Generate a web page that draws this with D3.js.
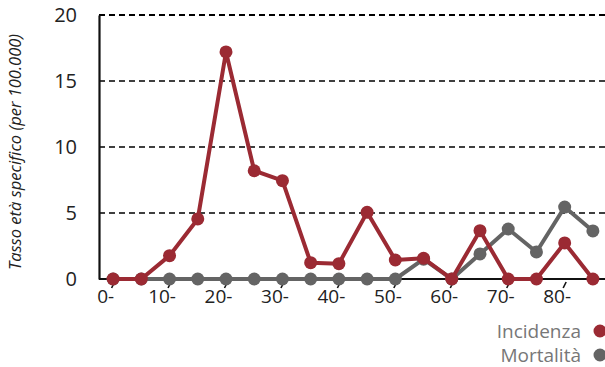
<!DOCTYPE html>
<html><head><meta charset="utf-8">
<script src="https://cdn.jsdelivr.net/npm/d3@7"></script>
<style>body{margin:0;background:#fff}svg{display:block;font-family:"Open Sans",sans-serif}</style>
</head><body>
<svg id="c" width="605" height="367"></svg>
<script>
const categories = ["0-","5-","10-","15-","20-","25-","30-","35-","40-","45-","50-","55-","60-","65-","70-","75-","80-","85-"];
const incidenza = [0,0,1.77,4.55,17.2,8.2,7.45,1.24,1.16,5.05,1.44,1.57,0,3.66,0,0,2.73,0];
const mortalita = [0,0,0,0,0,0,0,0,0,0,0,1.5,0,1.9,3.79,2.05,5.45,3.64];
const xTickLabels = ["0-","10-","20-","30-","40-","50-","60-","70-","80-"];
const yTicks = [0,5,10,15,20];
const seriesNames = ["Incidenza","Mortalità"];
const colors = ["#9b2a33","#646464"];

(function(){
const svg = d3.select("#c");
const pL = 99, pR = 607, pT = 15, pB = 279;
const x = d3.scalePoint().domain(categories).range([pL, pR]).padding(0.5);
const y = d3.scaleLinear().domain([0,20]).range([pB, pT]);

// grid
svg.append("g").selectAll("line").data(yTicks.filter(d=>d>0)).join("line")
  .attr("x1", pL).attr("x2", 605).attr("y1", d=>y(d)).attr("y2", d=>y(d))
  .attr("stroke", "#000").attr("stroke-width", d=>d===20?2.2:1.6).attr("stroke-dasharray", "6,4");

// y axis
const yAxis = d3.axisLeft(y).tickValues(yTicks).tickSize(0).tickPadding(22);
const gy = svg.append("g").attr("transform", `translate(${pL},0)`).call(yAxis);
gy.select(".domain").attr("stroke", "#111").attr("stroke-width", 2.2);
gy.selectAll("text").attr("font-size", 20).attr("fill", "#222").attr("font-family", "Open Sans");

// x axis
const xAxis = d3.axisBottom(x).tickValues(xTickLabels).tickSize(0).tickPadding(11);
const gx = svg.append("g").attr("transform", `translate(0,${pB})`).call(xAxis);
gx.select(".domain").attr("stroke", "#111").attr("stroke-width", 2.2).attr("d", `M${pL},0H${pR}`);
gx.selectAll("text").attr("font-size", 19).attr("fill", "#222").attr("dx", -8).attr("font-family", "Open Sans");
gx.selectAll(".tick").append("line").attr("x1", 1).attr("y1", 3).attr("x2", -2).attr("y2", 9)
  .attr("stroke", "#111").attr("stroke-width", 1.6);

// y label
svg.append("text").attr("transform", "translate(21,152) rotate(-90)")
  .attr("text-anchor", "middle").attr("font-size", 16.5).attr("font-style", "italic").attr("fill", "#222")
  .text("Tasso età specifico (per 100.000)");

const line = d3.line().x((d,i)=>x(categories[i])).y(d=>y(d));
[mortalita, incidenza].forEach((data, k) => {
  const c = k===0 ? colors[1] : colors[0];
  const g = svg.append("g");
  g.append("path").datum(data).attr("d", line).attr("fill","none").attr("stroke", c).attr("stroke-width", 4).attr("stroke-linejoin","round");
  g.selectAll("circle").data(data).join("circle")
    .attr("cx", (d,i)=>x(categories[i])).attr("cy", d=>y(d)).attr("r", 6.5).attr("fill", c);
});

// legend
const lg = svg.append("g");
seriesNames.forEach((n,i) => {
  const yy = 331 + i*24;
  lg.append("text").attr("x", 581).attr("y", yy).attr("dy","0.35em").attr("text-anchor","end")
    .attr("font-size", 19).attr("fill", "#777").text(n);
  lg.append("circle").attr("cx", 600).attr("cy", yy).attr("r", 6.5).attr("fill", colors[i]);
});
})();
</script>
</body></html>
